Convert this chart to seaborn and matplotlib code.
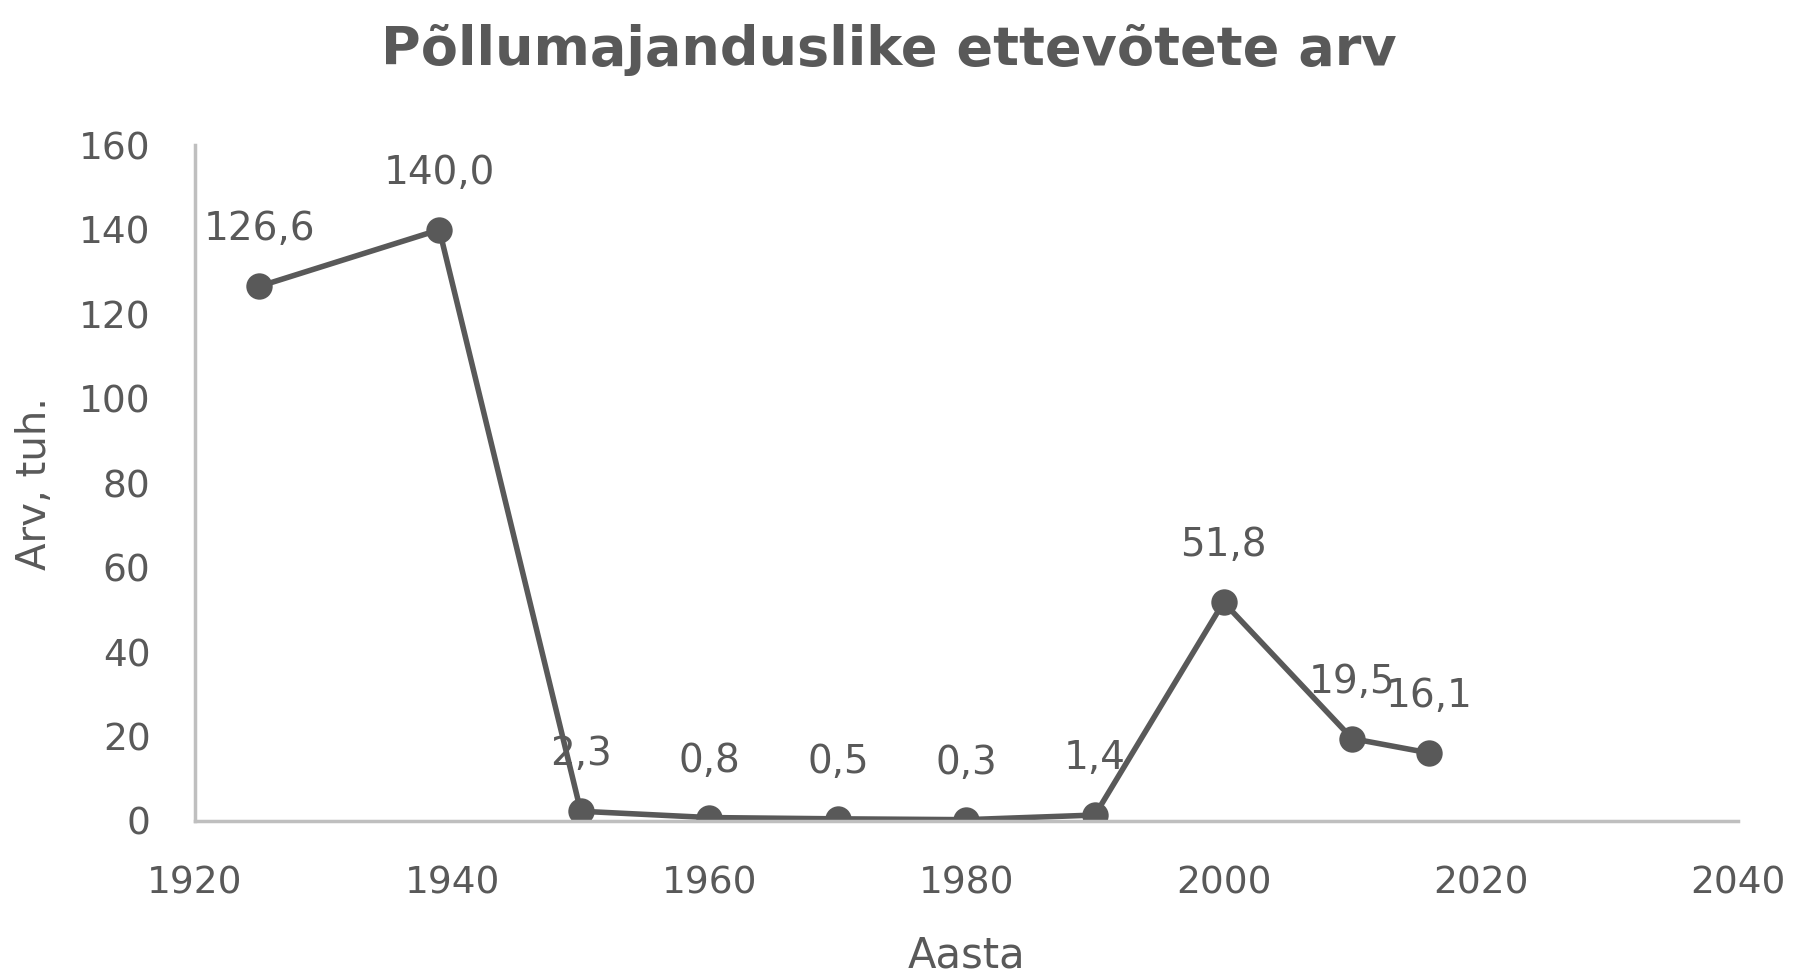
import matplotlib
matplotlib.use("Agg")
import matplotlib.pyplot as plt
import seaborn as sns
import pandas as pd

years = [1925, 1939, 1950, 1960, 1970, 1980, 1990, 2000, 2010, 2016]
values = [126.6, 140.0, 2.3, 0.8, 0.5, 0.3, 1.4, 51.8, 19.5, 16.1]
x_ticks = [1920, 1940, 1960, 1980, 2000, 2020, 2040]
y_ticks = [0, 20, 40, 60, 80, 100, 120, 140, 160]
title = "Põllumajanduslike ettevõtete arv"
xlabel = "Aasta"
ylabel = "Arv, tuh."

sns.set_theme(style="white")
plt.rcParams['font.family'] = ['DejaVu Sans']

TXT = "#595959"
LINE = "#595959"
SPINE = "#BFBFBF"

df = pd.DataFrame({"year": years, "value": values})

fig = plt.figure(figsize=(17.96, 9.75), dpi=100)
ax = fig.add_axes([0.1086, 0.158, 0.859, 0.693])

sns.lineplot(data=df, x="year", y="value", ax=ax, color=LINE, linewidth=4,
             marker="o", markersize=19, markeredgewidth=0, markerfacecolor=LINE)

for x, y in zip(years, values):
    ax.annotate(f"{y:.1f}".replace(".", ","), (x, y), xytext=(0, 41),
                textcoords="offset points", ha="center", va="center",
                fontsize=28, color=TXT)

ax.set_xlim(1920, 2040)
ax.set_ylim(0, 160)
ax.set_xticks(x_ticks)
ax.set_yticks(y_ticks)
ax.tick_params(axis="both", length=0, labelsize=27, labelcolor=TXT)
ax.tick_params(axis="x", pad=32)
ax.tick_params(axis="y", pad=32)

for s in ["top", "right"]:
    ax.spines[s].set_visible(False)
for s in ["left", "bottom"]:
    ax.spines[s].set_color(SPINE)
    ax.spines[s].set_linewidth(2.5)

ax.set_xlabel(xlabel, fontsize=30, color=TXT, labelpad=24)
ax.set_ylabel(ylabel, fontsize=29, color=TXT, labelpad=17)
ax.grid(False)

fig.text(0.495, 0.949, title, ha="center", va="center", fontsize=39,
         fontweight="bold", color=TXT)

fig.savefig("out.png", dpi=100, facecolor="white")
